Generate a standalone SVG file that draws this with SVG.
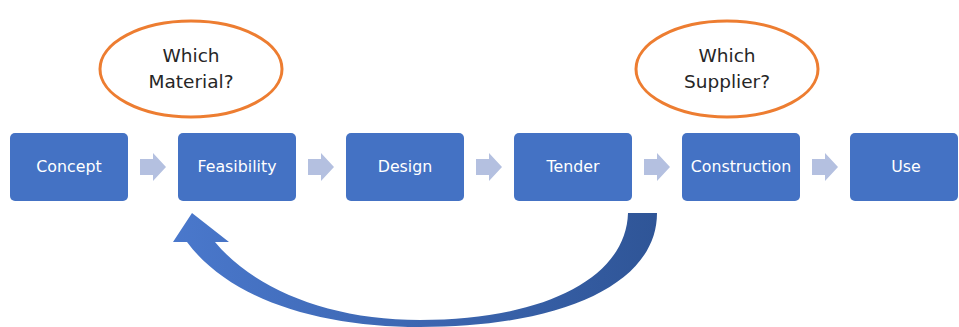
<svg xmlns="http://www.w3.org/2000/svg" width="959" height="327" viewBox="0 0 959 327">
<style>
.box{fill:#4472c4;}
.lbl{font-family:"DejaVu Sans",sans-serif;font-size:15.8px;fill:#fff;text-anchor:middle;}
.q{font-family:"DejaVu Sans",sans-serif;font-size:18.5px;fill:#262626;text-anchor:middle;}
.ell{fill:#fff;stroke:#ed7d31;stroke-width:3;}
.step{fill:#b4c0e0;}
</style>
<defs>
<linearGradient id="g" x1="0" y1="0" x2="1" y2="0">
<stop offset="0" stop-color="#4a78cc"/>
<stop offset="1" stop-color="#2f5597"/>
</linearGradient>
<path id="chev" d="M0 6 H13 V0 L26 14 L13 28 V22 H0 Z"/>
</defs>
<rect width="959" height="327" fill="#fff"/>
<g id="connectors">
<use href="#chev" class="step" x="140" y="153"/>
<use href="#chev" class="step" x="308" y="153"/>
<use href="#chev" class="step" x="476" y="153"/>
<use href="#chev" class="step" x="644" y="153"/>
<use href="#chev" class="step" x="812" y="153"/>
<path d="M628 213 L657 213 C657 285 560 327 420 327 C320 327 230 300 187 242 L173 242 L192 213 L229 242 L215 242 C255 290 330 320 420 320 C540 320 626 280 628 213 Z" fill="url(#g)"/>
</g>
<g id="concept"><rect class="box" x="10" y="133" width="118" height="68" rx="5"/><text class="lbl" x="69" y="172">Concept</text></g>
<g id="feasibility"><rect class="box" x="178" y="133" width="118" height="68" rx="5"/><text class="lbl" x="237" y="172">Feasibility</text></g>
<g id="design"><rect class="box" x="346" y="133" width="118" height="68" rx="5"/><text class="lbl" x="405" y="172">Design</text></g>
<g id="tender"><rect class="box" x="514" y="133" width="118" height="68" rx="5"/><text class="lbl" x="573" y="172">Tender</text></g>
<g id="construction"><rect class="box" x="682" y="133" width="118" height="68" rx="5"/><text class="lbl" x="741" y="172">Construction</text></g>
<g id="use"><rect class="box" x="850" y="133" width="108" height="68" rx="5"/><text class="lbl" x="906" y="172">Use</text></g>
<g id="which-material"><ellipse class="ell" cx="191" cy="69" rx="91" ry="48"/><text class="q" x="191" y="62">Which</text><text class="q" x="191" y="88">Material?</text></g>
<g id="which-supplier"><ellipse class="ell" cx="727" cy="69" rx="91" ry="48"/><text class="q" x="727" y="62">Which</text><text class="q" x="727" y="88">Supplier?</text></g>
</svg>
